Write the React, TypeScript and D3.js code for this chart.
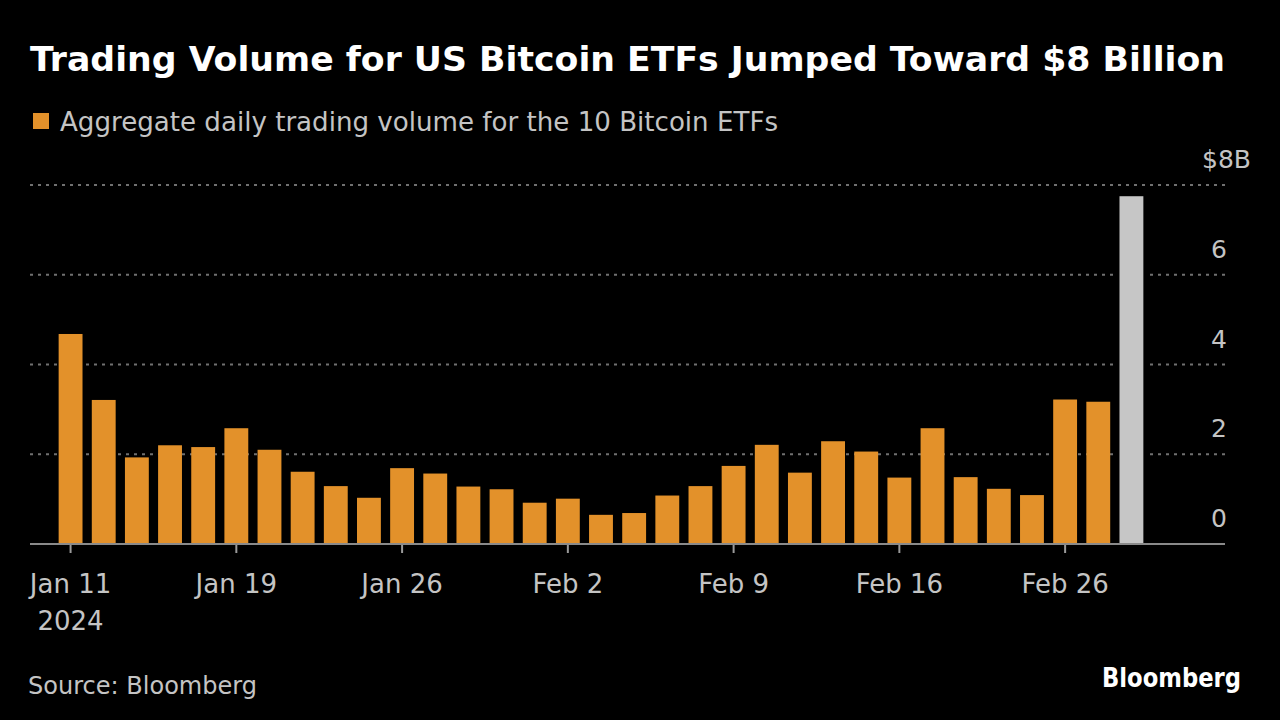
import React from "react";
import * as d3 from "d3";

const dates = [
  "2024-01-11", "2024-01-12", "2024-01-16", "2024-01-17", "2024-01-18", "2024-01-19",
  "2024-01-22", "2024-01-23", "2024-01-24", "2024-01-25", "2024-01-26",
  "2024-01-29", "2024-01-30", "2024-01-31", "2024-02-01", "2024-02-02",
  "2024-02-05", "2024-02-06", "2024-02-07", "2024-02-08", "2024-02-09",
  "2024-02-12", "2024-02-13", "2024-02-14", "2024-02-15", "2024-02-16",
  "2024-02-20", "2024-02-21", "2024-02-22", "2024-02-23",
  "2024-02-26", "2024-02-27", "2024-02-28",
];

const volumes = [
  4.68, 3.21, 1.93, 2.20, 2.16, 2.58,
  2.10, 1.61, 1.29, 1.03, 1.69,
  1.57, 1.28, 1.22, 0.92, 1.01,
  0.65, 0.69, 1.08, 1.29, 1.74,
  2.21, 1.59, 2.29, 2.06, 1.48,
  2.58, 1.49, 1.23, 1.09,
  3.22, 3.17, 7.75,
];

const highlighted = ["2024-02-28"];

const tickDates = ["2024-01-11", "2024-01-19", "2024-01-26", "2024-02-02", "2024-02-09", "2024-02-16", "2024-02-26"];
const tickLabels = ["Jan 11", "Jan 19", "Jan 26", "Feb 2", "Feb 9", "Feb 16", "Feb 26"];

const yTicks = [0, 2, 4, 6, 8];
const yTickLabels = ["0", "2", "4", "6", "$8B"];

const title = "Trading Volume for US Bitcoin ETFs Jumped Toward $8 Billion";
const legendLabel = "Aggregate daily trading volume for the 10 Bitcoin ETFs";
const sourceText = "Source: Bloomberg";

const ORANGE = "#E3912A";
const GRAY_BAR = "#C6C6C6";
const TEXT_GRAY = "#C4C4C4";
const FONT = "'DejaVu Sans', 'Noto Sans', sans-serif";

export default function App() {
  const W = 1280;
  const H = 720;
  const x = d3.scaleBand<string>().domain(dates).range([54, 1148]).paddingInner(0.28).paddingOuter(0.14);
  const y = d3.scaleLinear().domain([0, 8]).range([544, 185]);
  const axisLeft = 30;
  const axisRight = 1225;

  return (
    <svg width={W} height={H} style={{ position: "absolute", left: 0, top: 0, background: "#000" }} fontFamily={FONT}>
      <rect x={0} y={0} width={W} height={H} fill="#000" />
      <text x={30} y={71} fill="#fff" fontSize={33} fontWeight="bold" textLength={1195} lengthAdjust="spacingAndGlyphs">
        {title}
      </text>
      <rect x={33} y={113} width={16} height={16} fill={ORANGE} />
      <text x={60} y={131} fill={TEXT_GRAY} fontSize={26} textLength={718} lengthAdjust="spacingAndGlyphs">
        {legendLabel}
      </text>

      {yTicks.filter((t) => t !== 0).map((t) => (
        <line key={"g" + t} x1={axisLeft} x2={axisRight} y1={y(t)} y2={y(t)} stroke="#707070" strokeWidth={2} strokeDasharray="3,5" />
      ))}

      {yTicks.map((t, i) => (
        <text
          key={"yl" + t}
          x={t === 8 ? 1251 : 1227}
          y={y(t) - 17}
          fill={TEXT_GRAY}
          fontSize={25}
          textAnchor="end"
        >
          {yTickLabels[i]}
        </text>
      ))}

      {dates.map((d, i) => {
        const isHi = highlighted.includes(d);
        const bx = x(d) as number;
        const by = y(volumes[i]);
        const bh = y(0) - by;
        return (
          <g key={d}>
            {isHi && <rect x={bx - 3} y={by} width={x.bandwidth() + 6} height={bh} fill="#000" />}
            <rect x={bx} y={by} width={x.bandwidth()} height={bh} fill={isHi ? GRAY_BAR : ORANGE} />
          </g>
        );
      })}

      <line x1={axisLeft} x2={axisRight} y1={y(0)} y2={y(0)} stroke="#8a8a8a" strokeWidth={2} />

      {tickDates.map((d, i) => {
        const cx = (x(d) as number) + x.bandwidth() / 2;
        return (
          <g key={"t" + d}>
            <line x1={cx} x2={cx} y1={545} y2={553} stroke="#9a9a9a" strokeWidth={2} />
            <text x={cx} y={593} fill={TEXT_GRAY} fontSize={26} textAnchor="middle">
              {tickLabels[i]}
            </text>
            {i === 0 && (
              <text x={cx} y={630} fill={TEXT_GRAY} fontSize={26} textAnchor="middle">
                {d.slice(0, 4)}
              </text>
            )}
          </g>
        );
      })}

      <text x={28} y={694} fill={TEXT_GRAY} fontSize={25} textLength={229} lengthAdjust="spacingAndGlyphs">
        {sourceText}
      </text>
      <text x={1241} y={687} fill="#fff" fontSize={26} fontWeight="bold" textAnchor="end" textLength={139} lengthAdjust="spacingAndGlyphs">
        Bloomberg
      </text>
    </svg>
  );
}
